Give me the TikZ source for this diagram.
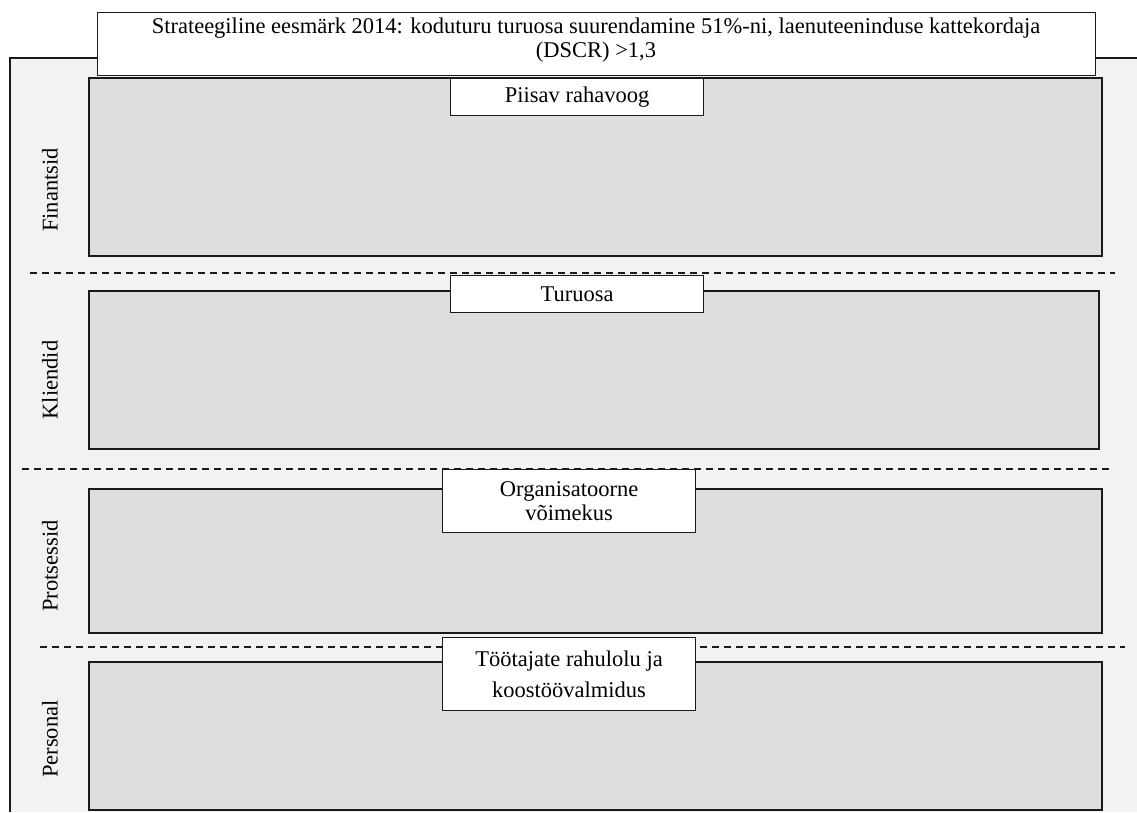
\documentclass[tikz,border=0pt]{standalone}
\usepackage{fontspec}
\setmainfont{Liberation Serif}
\definecolor{bgfill}{HTML}{F2F2F2}
\definecolor{boxfill}{HTML}{DEDEDE}
\definecolor{linec}{HTML}{1A1A1A}
\tikzset{
  lane/.style={draw=linec, line width=1.6pt, fill=boxfill, anchor=north west, inner sep=0pt},
  tag/.style={draw=linec, line width=1.2pt, fill=white, anchor=north west, inner sep=0pt},
  tagtext/.style={align=center, inner sep=0pt, font=\fontsize{22.5}{24}\selectfont},
  sidelabel/.style={rotate=90, inner sep=0pt, font=\fontsize{22.5}{24}\selectfont},
  sep/.style={draw=linec, line width=1.1pt, dash pattern=on 7pt off 5pt},
}
\begin{document}
\begin{tikzpicture}[x=1pt,y=-1pt]
\useasboundingbox (0,0) rectangle (1137,812);
% outer frame
\fill[bgfill] (10,58) rectangle (1137,812);
\draw[linec, line width=1.4pt] (10,812) -- (10,58) -- (1137,58);
% lanes
\node[lane, minimum width=1013pt, minimum height=178pt] (fin) at (88,77) {};
\node[lane, minimum width=1010pt, minimum height=158pt] (kli) at (88,290) {};
\node[lane, minimum width=1013pt, minimum height=144pt] (pro) at (88,488) {};
\node[lane, minimum width=1013pt, minimum height=148pt] (per) at (88,661) {};
% separators
\coordinate (s1a) at (30,273); \coordinate (s1b) at (1115,273);
\coordinate (s2a) at (22,469); \coordinate (s2b) at (1112,469);
\coordinate (s3a) at (40,647); \coordinate (s3b) at (1125,647);
\draw[sep] (s1a) -- (s1b);
\draw[sep] (s2a) -- (s2b);
\draw[sep] (s3a) -- (s3b);
% title
\node[tag, minimum width=998pt, minimum height=63pt] (title) at (97,12) {};
\node[tagtext, font=\fontsize{22.5}{24}\selectfont] (titletext) at (596,40)
  {Strateegiline eesmärk 2014: koduturu turuosa suurendamine 51\%-ni, laenuteeninduse kattekordaja\\(DSCR) >1,3};
% tags
\node[tag, minimum width=253pt, minimum height=37pt] (t1) at (450,78) {};
\node[tagtext] (t1text) at (t1.center) {Piisav rahavoog};
\node[tag, minimum width=253pt, minimum height=37pt] (t2) at (450,275) {};
\node[tagtext] (t2text) at (t2.center) {Turuosa};
\node[tag, minimum width=253pt, minimum height=63pt] (t3) at (442,469) {};
\node[tagtext] (t3text) at (t3.center) {Organisatoorne\\võimekus};
\node[tag, minimum width=253pt, minimum height=73pt] (t4) at (442,637) {};
\node[tagtext, font=\fontsize{22.5}{31}\selectfont] (t4text) at (t4.center) {Töötajate rahulolu ja\\koostöövalmidus};
% side labels
\node[sidelabel] (l1) at (50,190) {Finantsid};
\node[sidelabel] (l2) at (50,380) {Kliendid};
\node[sidelabel] (l3) at (50,566) {Protsessid};
\node[sidelabel] (l4) at (50,739) {Personal};
\end{tikzpicture}
\end{document}
